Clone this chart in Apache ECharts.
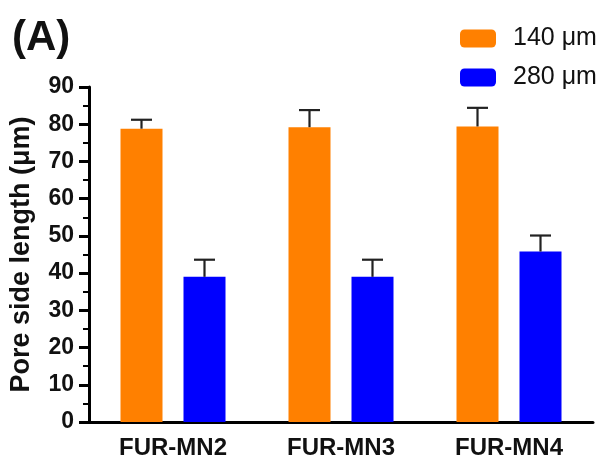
<!DOCTYPE html>
<html>
<head>
<meta charset="utf-8">
<script src="https://cdn.jsdelivr.net/npm/echarts@6/dist/echarts.min.js"></script>
<style>
  html, body { margin: 0; padding: 0; background: #fff; }
  #main { width: 606px; height: 460px; }
</style>
</head>
<body>
<div id="main"></div>
<script>
  // data
  var categories = ['FUR-MN2', 'FUR-MN3', 'FUR-MN4'];
  var mean140 = [78.8, 79.2, 79.4];
  var sd140 = [2.4, 4.6, 5.0];
  var mean280 = [39.0, 39.0, 45.8];
  var sd280 = [4.6, 4.6, 4.3];
  var yTicks = [0, 10, 20, 30, 40, 50, 60, 70, 80, 90];

  var barW = 42;
  var barGapPx = 21;
  var half = (barW + barGapPx) / 2;

  function errorSeries(name, means, sds, offset) {
    return {
      name: name + ' err',
      type: 'custom',
      z: 5,
      silent: true,
      data: means.map(function (m, i) { return [i, m, m + sds[i]]; }),
      renderItem: function (params, api) {
        var base = api.coord([api.value(0), api.value(1)]);
        var top = api.coord([api.value(0), api.value(2)]);
        var x = base[0] + offset;
        var capHalf = 10.5;
        var st = { stroke: '#222', lineWidth: 2.2 };
        return {
          type: 'group',
          children: [
            { type: 'line', shape: { x1: x, y1: base[1], x2: x, y2: top[1] }, style: st },
            { type: 'line', shape: { x1: x - capHalf, y1: top[1], x2: x + capHalf, y2: top[1] }, style: st }
          ]
        };
      }
    };
  }

  var myChart = echarts.init(document.getElementById('main'));
  myChart.setOption({
    animation: false,
    textStyle: { fontFamily: 'Liberation Sans, Arial, sans-serif' },
    title: {
      text: '(A)',
      left: 7,
      top: 12,
      textStyle: { fontSize: 42, fontWeight: 'bold', color: '#111' }
    },
    legend: {
      data: ['140 μm', '280 μm'],
      orient: 'vertical',
      left: 455,
      top: 21,
      itemWidth: 36,
      itemHeight: 18,
      itemGap: 14,
      textStyle: { fontSize: 25, color: '#111', padding: [0, 0, 0, 12] }
    },
    grid: { left: 88, right: 13, top: 87, bottom: 37 },
    xAxis: {
      type: 'category',
      data: categories,
      axisLine: { lineStyle: { color: '#000', width: 3 } },
      axisTick: { alignWithLabel: true, length: 9, lineStyle: { color: '#000', width: 3 } },
      axisLabel: { fontSize: 24, fontWeight: 'bold', color: '#111', margin: 14 }
    },
    yAxis: {
      type: 'value',
      min: yTicks[0],
      max: yTicks[yTicks.length - 1],
      interval: 10,
      name: 'Pore side length (μm)',
      nameLocation: 'middle',
      nameGap: 54,
      nameTextStyle: { fontSize: 27, fontWeight: 'bold', color: '#111' },
      axisLine: { show: true, lineStyle: { color: '#000', width: 3 } },
      axisTick: { show: true, length: 10, lineStyle: { color: '#000', width: 3 } },
      minorTick: { show: true, splitNumber: 2, length: 6, lineStyle: { color: '#000', width: 2 } },
      splitLine: { show: false },
      axisLabel: { fontSize: 23, fontWeight: 'bold', color: '#111', margin: 15 }
    },
    series: [
      {
        name: '140 μm',
        type: 'bar',
        data: mean140,
        barWidth: barW,
        barGap: '50%',
        itemStyle: { color: '#FF8000' }
      },
      {
        name: '280 μm',
        type: 'bar',
        data: mean280,
        barWidth: barW,
        itemStyle: { color: '#0000FF' }
      },
      errorSeries('140 μm', mean140, sd140, -half),
      errorSeries('280 μm', mean280, sd280, half)
    ]
  });
</script>
</body>
</html>
